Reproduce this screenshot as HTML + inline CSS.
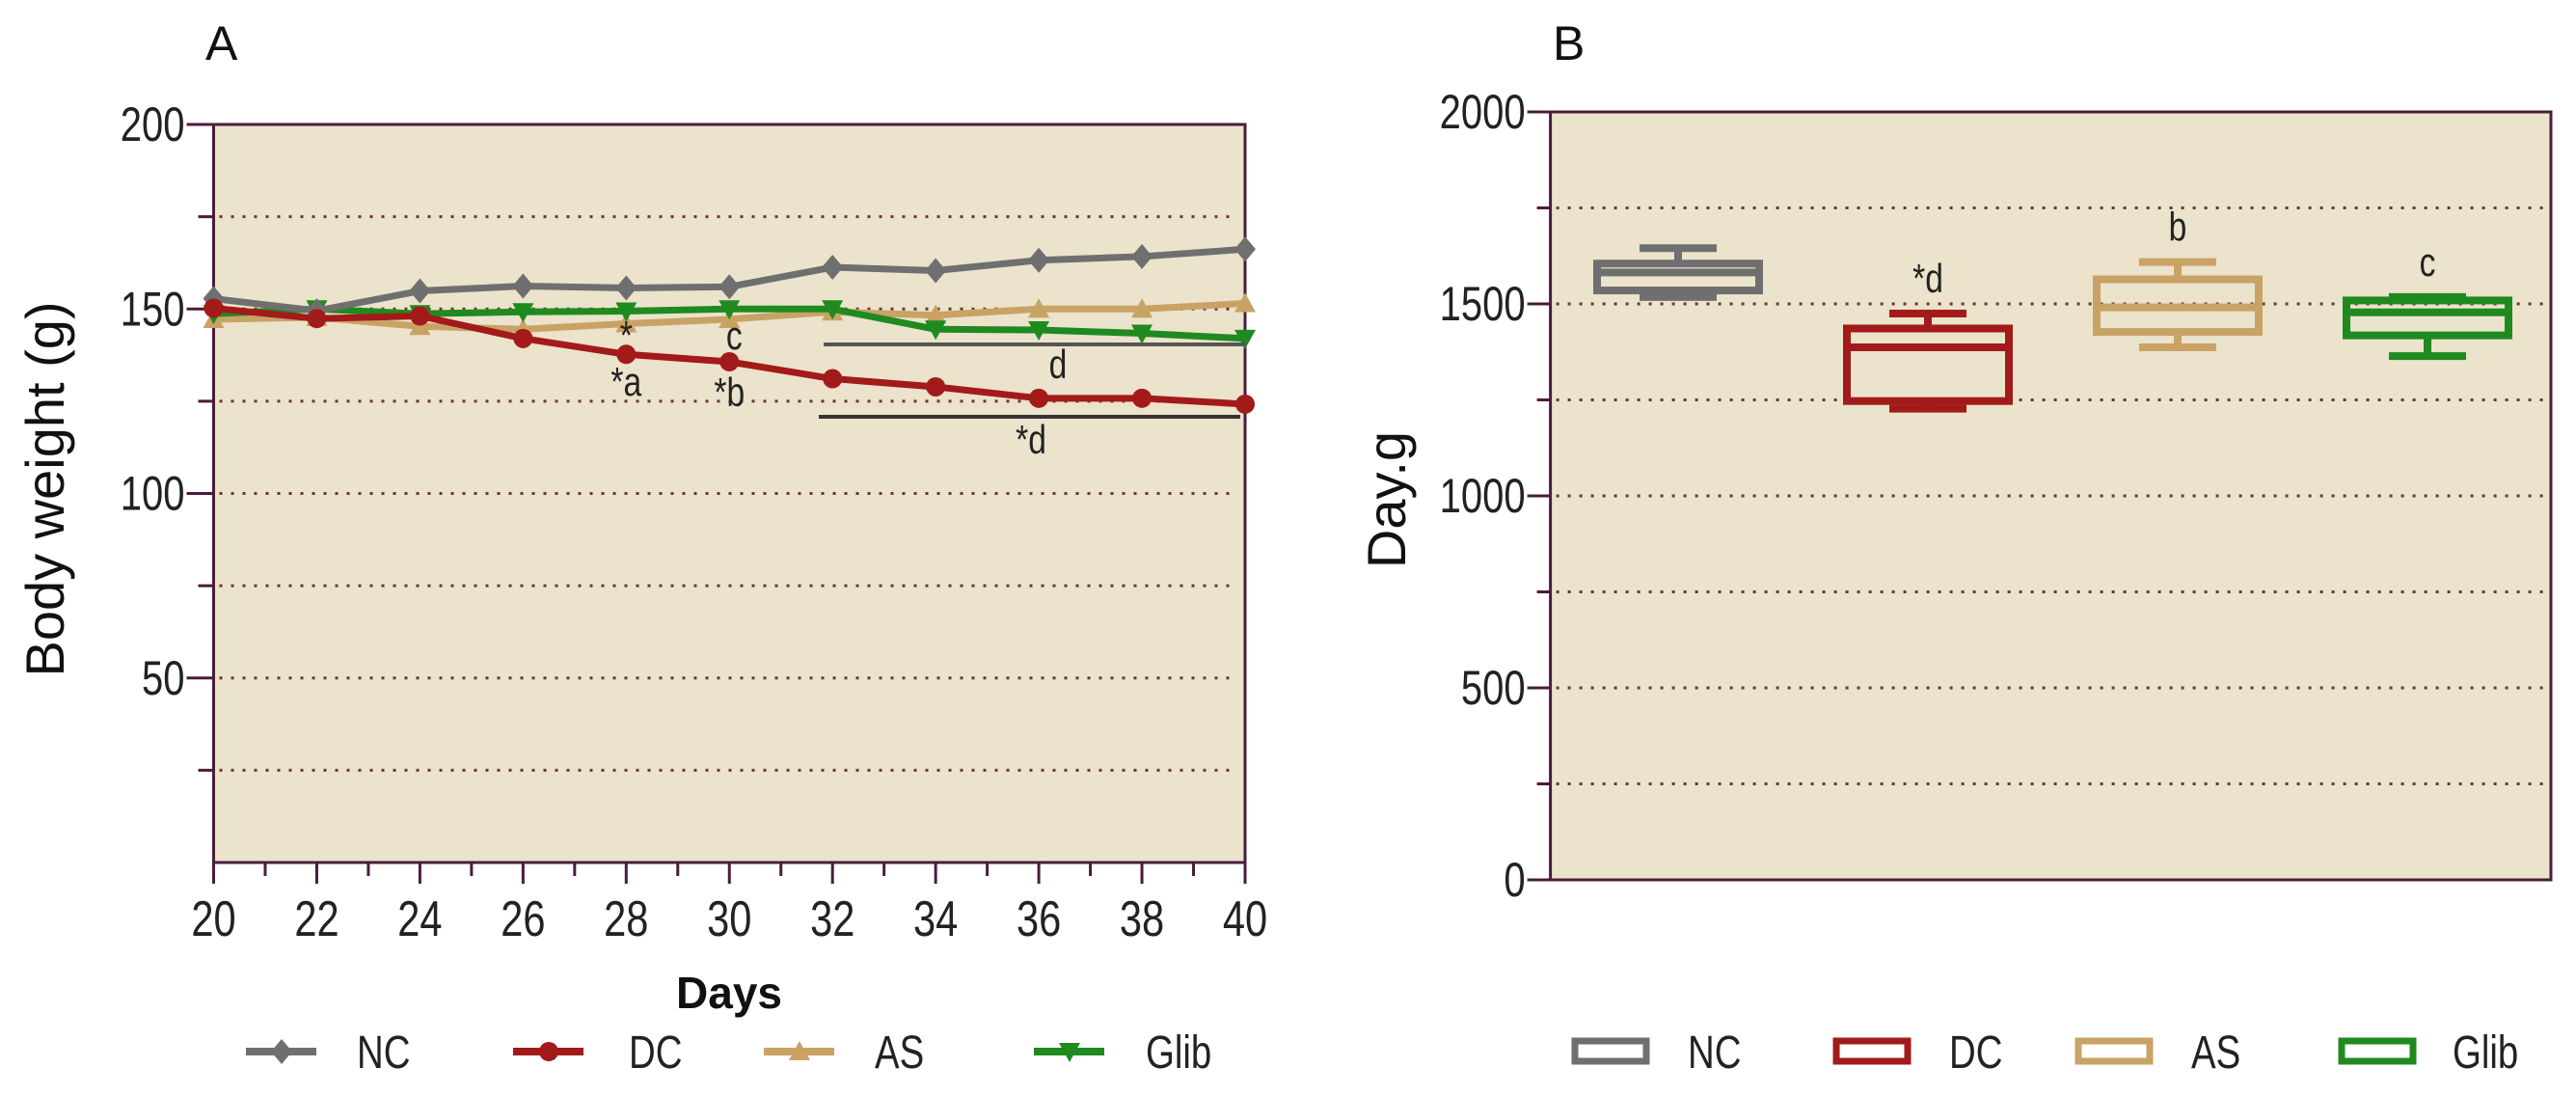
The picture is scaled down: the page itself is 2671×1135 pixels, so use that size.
<!DOCTYPE html>
<html><head><meta charset="utf-8">
<style>
html,body{margin:0;padding:0;background:#fff;}
svg{display:block;font-family:"Liberation Sans Narrow","Liberation Sans",sans-serif;}
</style></head>
<body>
<svg id="chart" width="2671" height="1135" viewBox="0 0 2671 1135" xmlns="http://www.w3.org/2000/svg">
<g id="panelA"></g>
<g id="panelB"></g>
</svg>
<script>
// Panel A data
const days = [20,22,24,26,28,30,32,34,36,38,40];
const seriesNames = ["NC","DC","AS","Glib"];
const ncWeight = [152.8,149.5,154.9,156.2,155.7,156,161.3,160.4,163.2,164.2,166.2];
const dcWeight = [150.2,147.4,148.1,142,137.7,135.7,131.1,128.9,125.8,125.8,124.2];
const asWeight = [147.2,147.7,145.3,144.5,146,147.2,149.2,148.3,150,150,151.5];
const glibWeight = [148.7,150,148.7,149.2,149.4,150,150,144.5,144.3,143.4,142];
const yTicksA = [50,100,150,200];
const yMinorA = [25,75,125,175];
// Panel B data
const groups = ["NC","DC","AS","Glib"];
const whiskerHigh = [1645,1475,1609,1518];
const boxHigh = [1605,1436,1564,1509];
const medians = [1582,1387,1491,1478];
const boxLow = [1535,1247,1427,1418];
const whiskerLow = [1518,1227,1387,1364];
const groupLabels = ["","*d","b","c"];
const yTicksB = [0,500,1000,1500,2000];
const yMinorB = [250,750,1250,1750];

const colors = ["#6f6f6f","#a31a1a","#c9a266","#1f8a1f"];
const NS = "http://www.w3.org/2000/svg";
function el(tag, attrs, parent, text){
  const e = document.createElementNS(NS, tag);
  for (const k in attrs) e.setAttribute(k, attrs[k]);
  if (text !== undefined) e.textContent = text;
  parent.appendChild(e);
  return e;
}
// condensed text helper
function ctext(x, y, str, size, anchor, parent, sx){
  return el('text',{x:0,y:0,'text-anchor':anchor,'font-size':size,fill:'#222',transform:`translate(${x},${y}) scale(${sx||0.8},1)`},parent,str);
}
const axisCol = "#4a1c3c", gridCol = "#6b3535", bg = "#ebe3cb";

// ---------- Panel A ----------
const A = document.getElementById('panelA');
const ax0 = 221.5, ax1 = 1291, ay0 = 894, ay200 = 129;
const xA = d => ax0 + (d - 20) / 20 * (ax1 - ax0);
const yA = v => ay0 - v / 200 * (ay0 - ay200);
let r = el('rect',{x:ax0,y:ay200,width:ax1-ax0,height:ay0-ay200,fill:bg},A);
 
[...yTicksA.filter(v=>v<200), ...yMinorA].forEach(v=>{
  const g = el('line',{x1:ax0+6,x2:ax1-8,y1:yA(v),y2:yA(v),stroke:gridCol,'stroke-width':3,'stroke-dasharray':'3 9'},A);
   
});
el('rect',{x:ax0,y:ay200,width:ax1-ax0,height:ay0-ay200,fill:'none',stroke:axisCol,'stroke-width':3},A);
yTicksA.forEach(v=>{
  el('line',{x1:ax0-28,x2:ax0,y1:yA(v),y2:yA(v),stroke:axisCol,'stroke-width':3},A);
  const t = ctext(ax0-30, yA(v)+17, String(v), 50, 'end', A);
   
});
yMinorA.forEach(v=>el('line',{x1:ax0-16,x2:ax0,y1:yA(v),y2:yA(v),stroke:axisCol,'stroke-width':3},A));
for (let d=20; d<=40; d++){
  el('line',{x1:xA(d),x2:xA(d),y1:ay0,y2:ay0+(d%2===0?22:14),stroke:axisCol,'stroke-width':3},A);
}
days.forEach(d=>{
  const t = ctext(xA(d), 970, String(d), 52, 'middle', A);
   
});
let t = el('text',{x:756,y:1045,'text-anchor':'middle','font-size':46,'font-weight':'bold','font-family':'Liberation Sans, sans-serif',fill:'#111'},A,'Days');
 
t = el('text',{x:0,y:0,'text-anchor':'middle','font-size':56,'font-family':'Liberation Sans, sans-serif',fill:'#111',transform:'translate(66,507) rotate(-90)'},A,'Body weight (g)');
 
t = el('text',{x:213,y:62,'font-size':50,'font-family':'Liberation Sans, sans-serif',fill:'#111'},A,'A');
 

function marker(cx, cy, i, parent){
  const s = 11;
  if (i===0) return el('polygon',{points:`${cx},${cy-s-2} ${cx+s},${cy} ${cx},${cy+s+2} ${cx-s},${cy}`,fill:colors[i]},parent);
  if (i===1) return el('circle',{cx:cx,cy:cy,r:s-1,fill:colors[i]},parent);
  if (i===2) return el('polygon',{points:`${cx},${cy-s} ${cx+s},${cy+s-2} ${cx-s},${cy+s-2}`,fill:colors[i]},parent);
  return el('polygon',{points:`${cx},${cy+s} ${cx+s},${cy-s+2} ${cx-s},${cy-s+2}`,fill:colors[i]},parent);
}
const allSeries = [ncWeight, dcWeight, asWeight, glibWeight];
[2,3,0,1].forEach(i=>{
  const vals = allSeries[i];
  const g = el('g',{},A);
  
  
  el('polyline',{points:vals.map((v,k)=>xA(days[k])+','+yA(v)).join(' '),fill:'none',stroke:colors[i],'stroke-width':7,'stroke-linejoin':'round'},g);
  vals.forEach((v,k)=>{
    const m = marker(xA(days[k]), yA(v), i, g);
    
    
  });
});
// significance annotations
const ann = el('g',{'font-size':40,fill:'#222'},A);
 
el('line',{x1:854,x2:1291,y1:357,y2:357,stroke:'#555','stroke-width':4},ann);
el('line',{x1:849,x2:1286,y1:432,y2:432,stroke:'#333','stroke-width':4},ann);
ctext(xA(28), 362, '*', 42, 'middle', ann);
ctext(xA(30)+5, 362, 'c', 42, 'middle', ann);
ctext(xA(28), 410, '*a', 42, 'middle', ann);
ctext(xA(30), 421, '*b', 42, 'middle', ann);
ctext(1097, 392, 'd', 42, 'middle', ann);
ctext(1069, 470, '*d', 42, 'middle', ann);
// legend A
const legAx = [255,532,792,1072], legAtx = [370,652,907,1188];
seriesNames.forEach((n,i)=>{
  const g = el('g',{},A);
  
  
  el('line',{x1:legAx[i],x2:legAx[i]+73,y1:1090,y2:1090,stroke:colors[i],'stroke-width':8},g);
  marker(legAx[i]+37,1090,i,g);
  ctext(legAtx[i], 1107, n, 48, 'start', g, 0.8);
});

// ---------- Panel B ----------
const B = document.getElementById('panelB');
const bx0 = 1607.6, bx1 = 2645, by0 = 912, by2000 = 116;
const yB = v => by0 - v/2000*(by0-by2000);
const xB = i => 1740 + i*259;
r = el('rect',{x:bx0,y:by2000,width:bx1-bx0,height:by0-by2000,fill:bg},B);
 
[...yTicksB.filter(v=>v>0&&v<2000), ...yMinorB].forEach(v=>{
  const g = el('line',{x1:bx0+6,x2:bx1-8,y1:yB(v),y2:yB(v),stroke:gridCol,'stroke-width':3,'stroke-dasharray':'3 9'},B);
   
});
el('rect',{x:bx0,y:by2000,width:bx1-bx0,height:by0-by2000,fill:'none',stroke:axisCol,'stroke-width':3},B);
yTicksB.forEach(v=>{
  el('line',{x1:bx0-24,x2:bx0,y1:yB(v),y2:yB(v),stroke:axisCol,'stroke-width':3},B);
  const tt = ctext(bx0-26, yB(v)+17, String(v), 50, 'end', B);
   
});
yMinorB.forEach(v=>el('line',{x1:bx0-14,x2:bx0,y1:yB(v),y2:yB(v),stroke:axisCol,'stroke-width':3},B));
t = el('text',{x:0,y:0,'text-anchor':'middle','font-size':56,'font-family':'Liberation Sans, sans-serif',fill:'#111',transform:'translate(1457,518) rotate(-90)'},B,'Day.g');
 
t = el('text',{x:1610,y:62,'font-size':50,'font-family':'Liberation Sans, sans-serif',fill:'#111'},B,'B');
 
groups.forEach((n,i)=>{
  const g = el('g',{stroke:colors[i],'stroke-width':8,fill:'none'},B);
  
  
  const cx = xB(i), hw = 84, cw = 40;
  el('line',{x1:cx,x2:cx,y1:yB(whiskerHigh[i]),y2:yB(boxHigh[i])},g);
  el('line',{x1:cx,x2:cx,y1:yB(boxLow[i]),y2:yB(whiskerLow[i])},g);
  el('line',{x1:cx-cw,x2:cx+cw,y1:yB(whiskerHigh[i]),y2:yB(whiskerHigh[i])},g);
  el('line',{x1:cx-cw,x2:cx+cw,y1:yB(whiskerLow[i]),y2:yB(whiskerLow[i])},g);
  el('rect',{x:cx-hw,y:yB(boxHigh[i]),width:2*hw,height:yB(boxLow[i])-yB(boxHigh[i])},g);
  el('line',{x1:cx-hw,x2:cx+hw,y1:yB(medians[i]),y2:yB(medians[i])},g);
  if (groupLabels[i]){
    const tl = ctext(cx, yB(whiskerHigh[i])-22, groupLabels[i], 42, 'middle', B);
    
    
  }
});
// legend B
const legBx = [1633,1904,2155,2428], legBtx = [1750,2021,2272,2543];
groups.forEach((n,i)=>{
  const g = el('g',{},B);
  
  
  el('rect',{x:legBx[i],y:1079,width:74,height:21,fill:'none',stroke:colors[i],'stroke-width':7},g);
  ctext(legBtx[i], 1107, n, 48, 'start', g, 0.8);
});
</script>
</body></html>
